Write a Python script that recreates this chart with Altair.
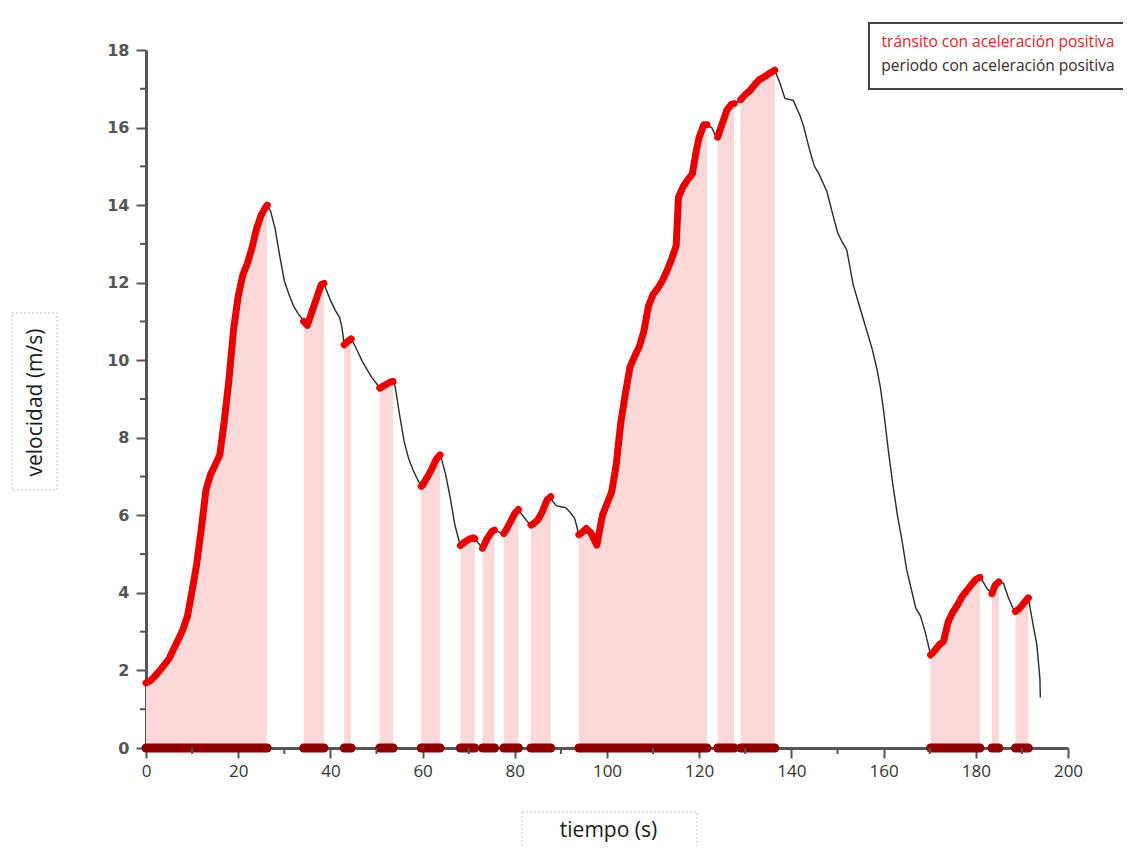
import altair as alt
import pandas as pd

# ---- data ----
tiempo = [0, 1, 2, 3, 4, 5, 6, 7, 8, 9, 10, 11, 12, 13, 14, 15, 16, 17, 18, 19, 20,
          21, 22, 23, 24, 25, 26, 26.3, 27, 28, 29, 30, 31, 32, 33, 34, 34.2, 35, 36,
          37, 38, 38.6, 39, 40, 41, 42, 42.5, 43, 43.7, 44.5, 45, 46, 47, 48, 49, 50,
          50.7, 51, 52, 53, 53.6, 54, 55, 56, 57, 58, 59, 59.7, 60, 61, 62, 63, 63.8,
          64, 65, 66, 67, 68, 68.2, 69, 70, 71, 71.3, 72, 73, 74, 75, 75.6, 76, 77,
          77.6, 78, 79, 80, 80.8, 81, 82, 83, 83.5, 84, 85, 86, 87, 87.8, 88, 89, 90,
          91, 92, 93, 93.9, 94.5, 95.5, 96.5, 97.8, 99, 100, 101, 102, 102.5, 103,
          104, 105, 106, 107, 108, 109, 110, 111, 112, 113, 114, 115, 115.5, 116.5,
          117.5, 118.5, 119.4, 120, 121, 121.7, 122.7, 123.8, 124, 125, 126, 127,
          127.6, 128, 129, 130, 131, 132, 133, 134, 135, 136, 136.4, 137.5, 138.6,
          140.4, 141.9, 142.6, 144, 145, 146, 147.7, 149, 150, 151, 152, 153.4, 154.5,
          156, 157.5, 158.5, 159.3, 160, 161, 162, 163, 164, 165, 166, 167, 168, 169,
          170.2, 171, 172, 173, 174, 175, 176, 177, 178, 179, 180, 180.9, 181.5, 182.5,
          183.5, 184.2, 185, 186, 187, 188, 188.6, 189.5, 190.5, 191.4, 192.1, 192.7,
          193.2, 193.6, 193.9, 194.0]
velocidad = [1.68, 1.74, 1.86, 2.0, 2.15, 2.3, 2.55, 2.8, 3.05, 3.4, 4.05, 4.75, 5.65,
             6.65, 7.05, 7.3, 7.55, 8.45, 9.5, 10.8, 11.65, 12.2, 12.5, 12.9, 13.4,
             13.75, 13.95, 14.0, 13.85, 13.4, 12.7, 12.05, 11.7, 11.4, 11.2, 11.05,
             11.0, 10.9, 11.25, 11.6, 11.95, 11.98, 11.85, 11.55, 11.3, 11.1, 10.85,
             10.4, 10.48, 10.55, 10.45, 10.2, 9.95, 9.75, 9.55, 9.4, 9.28, 9.3, 9.37,
             9.44, 9.45, 9.35, 8.6, 7.9, 7.45, 7.15, 6.9, 6.75, 6.78, 6.98, 7.2, 7.45,
             7.56, 7.5, 7.05, 6.45, 5.75, 5.3, 5.22, 5.3, 5.38, 5.42, 5.4, 5.3, 5.15,
             5.4, 5.58, 5.62, 5.6, 5.55, 5.53, 5.6, 5.82, 6.05, 6.15, 6.1, 5.95, 5.8,
             5.75, 5.78, 5.88, 6.1, 6.4, 6.48, 6.4, 6.25, 6.22, 6.2, 6.08, 5.92, 5.5,
             5.55, 5.66, 5.55, 5.23, 6.0, 6.3, 6.6, 7.3, 7.86, 8.4, 9.15, 9.83, 10.1,
             10.35, 10.75, 11.4, 11.7, 11.85, 12.05, 12.3, 12.6, 12.95, 14.2, 14.47,
             14.65, 14.8, 15.42, 15.75, 16.07, 16.07, 16.0, 15.72, 15.75, 16.1, 16.45,
             16.6, 16.62, 16.63, 16.72, 16.85, 16.95, 17.1, 17.23, 17.3, 17.38, 17.45,
             17.48, 17.15, 16.75, 16.7, 16.3, 16.05, 15.4, 15.0, 14.8, 14.35, 13.75,
             13.3, 13.05, 12.85, 11.95, 11.5, 10.9, 10.3, 9.8, 9.3, 8.7, 7.7, 6.8, 6.0,
             5.35, 4.6, 4.1, 3.6, 3.4, 3.0, 2.4, 2.5, 2.65, 2.75, 3.25, 3.5, 3.68, 3.9,
             4.05, 4.2, 4.35, 4.4, 4.3, 4.1, 3.98, 4.2, 4.28, 4.25, 3.9, 3.62, 3.52,
             3.6, 3.75, 3.87, 3.4, 3.0, 2.7, 2.2, 1.8, 1.3]

# periods with positive acceleration (start, end) in seconds
periodo_inicio = [0, 34.2, 43.0, 50.7, 59.7, 68.2, 73.0, 77.6, 83.5, 93.9, 124.0,
                  129.0, 170.2, 183.5, 188.6]
periodo_fin = [26.3, 38.6, 44.5, 53.6, 63.8, 71.3, 75.6, 80.8, 87.8, 121.7, 127.6,
               136.4, 180.9, 185.0, 191.4]

y_major = [0, 2, 4, 6, 8, 10, 12, 14, 16, 18]
y_minor = [1, 3, 5, 7, 9, 11, 13, 15, 17]
x_major = [0, 20, 40, 60, 80, 100, 120, 140, 160, 180, 200]
x_minor = [10, 30, 50, 70, 90, 110, 130, 150, 170, 190]

legend_labels = ["tránsito con aceleración positiva", "periodo con aceleración positiva"]
x_title = "tiempo (s)"
y_title = "velocidad (m/s)"

# ---- tables ----
df = pd.DataFrame({"t": tiempo, "v": velocidad})
rows = []
for i, (a, b) in enumerate(zip(periodo_inicio, periodo_fin)):
    sub = df[(df.t >= a) & (df.t <= b)].copy()
    sub["seg"] = i
    rows.append(sub)
red_df = pd.concat(rows, ignore_index=True)
seg_df = pd.DataFrame({"start": periodo_inicio, "end": periodo_fin,
                       "zero": [0] * len(periodo_inicio)})
ymin_df = pd.DataFrame({"val": y_minor})
xmin_df = pd.DataFrame({"val": x_minor})
one = pd.DataFrame({"a": [0]})

W, H = 922, 698
AX = "#555555"

xscale = alt.Scale(domain=[0, 200], nice=False, zero=False)
yscale = alt.Scale(domain=[0, 18], nice=False)

xaxis = alt.Axis(values=x_major, tickSize=10, tickWidth=2, tickColor=AX,
                 domainColor=AX, domainWidth=3, labelFont="Open Sans",
                 labelFontSize=17, labelColor="#333333", labelPadding=5,
                 labelFlush=False, grid=False, title=x_title, titleFont="Open Sans",
                 titleFontSize=21, titleFontWeight="normal", titleColor="#1a1a1a",
                 titleX=W / 2 + 1, titleY=82, titleBaseline="middle", zindex=0)
yaxis = alt.Axis(values=y_major, tickSize=10, tickWidth=2, tickColor=AX,
                 domainColor=AX, domainWidth=3, labelFont="DejaVu Sans",
                 labelFontWeight="bold", labelFontSize=16, labelColor="#555555",
                 labelPadding=7, grid=False, title=y_title, titleFont="Open Sans",
                 titleFontSize=21, titleFontWeight="normal", titleColor="#1a1a1a",
                 titleX=-111, titleY=352, titleAngle=-90, titleBaseline="middle",
                 zindex=0)


def X(field):
    return alt.X(field, type="quantitative", scale=xscale, axis=xaxis)


def Y(field):
    return alt.Y(field, type="quantitative", scale=yscale, axis=yaxis, stack=None)


area = alt.Chart(red_df).mark_area(color="#fcd8d8", opacity=1).encode(
    x=X("t"), y=Y("v"), detail="seg:N")

black = alt.Chart(df).mark_line(color="#2a2a2a", strokeWidth=1.4).encode(
    x=X("t"), y=Y("v"))

red = alt.Chart(red_df).mark_line(color="#e60000", strokeWidth=7, strokeCap="round",
                                  strokeJoin="round").encode(
    x=X("t"), y=Y("v"), detail="seg:N")

base_dots = alt.Chart(seg_df).mark_rule(color="#8c0000", strokeWidth=9,
                                        strokeCap="round").encode(
    x=X("start"), x2="end", y=Y("zero"))

yminor = alt.Chart(ymin_df).mark_rule(color=AX, strokeWidth=2).encode(
    y=Y("val"), x=alt.value(-6), x2=alt.value(0))
xminor = alt.Chart(xmin_df).mark_rule(color=AX, strokeWidth=2).encode(
    x=X("val"), y=alt.value(H), y2=alt.value(H + 6))

dotted_y = alt.Chart(one).mark_rect(fill="white", fillOpacity=0, stroke="#c4c4c4",
                                    strokeWidth=1, strokeDash=[2, 2]).encode(
    x=alt.value(-134), x2=alt.value(-89), y=alt.value(263), y2=alt.value(440))
dotted_x = alt.Chart(one).mark_rect(fill="white", fillOpacity=0, stroke="#c4c4c4",
                                    strokeWidth=1, strokeDash=[2, 2]).encode(
    x=alt.value(376), x2=alt.value(551), y=alt.value(762), y2=alt.value(802))

legend_box = alt.Chart(one).mark_rect(fill="white", stroke="#444444",
                                      strokeWidth=2).encode(
    x=alt.value(723), x2=alt.value(980), y=alt.value(-27), y2=alt.value(39))
legend_t1 = alt.Chart(one).mark_text(text=legend_labels[0], color="#e3242b",
                                     font="Open Sans", fontSize=15.5,
                                     align="center", baseline="middle").encode(
    x=alt.value(852), y=alt.value(-8))
legend_t2 = alt.Chart(one).mark_text(text=legend_labels[1], color="#3a2a2a",
                                     font="Open Sans", fontSize=15.5,
                                     align="center", baseline="middle").encode(
    x=alt.value(852), y=alt.value(16))

chart = alt.layer(
    dotted_y, dotted_x, area, black, red, base_dots, yminor, xminor,
    legend_box, legend_t1, legend_t2
).properties(
    width=W, height=H,
    autosize=alt.AutoSizeParams(type="none"),
    padding={"left": 138, "top": 42, "right": 55, "bottom": 98},
    background="white",
).configure_view(stroke=None)

chart.save("out.html", embed_options={"renderer": "svg", "actions": False})
